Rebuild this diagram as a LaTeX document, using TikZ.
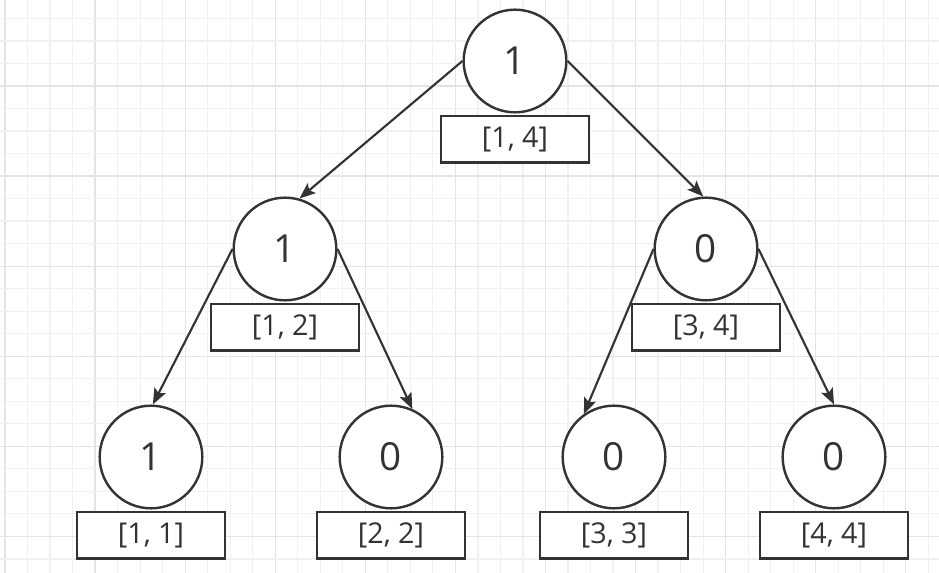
\documentclass[tikz,border=0pt]{standalone}
\usepackage{fontspec}
\setmainfont{Open Sans}
\usetikzlibrary{arrows.meta,positioning}

\definecolor{linec}{RGB}{51,51,51}
\definecolor{gridminor}{RGB}{241,241,241}
\definecolor{gridmajor}{RGB}{228,228,228}
\newcommand\valfont{\fontsize{29}{32}\selectfont}
\newcommand\segfont{\fontsize{21.5}{24}\selectfont}

\begin{document}
\begin{tikzpicture}[
  x=0.75pt, y=-0.75pt,
  val/.style={circle, draw=linec, text=linec, line width=1.8pt, fill=white, minimum size=77pt, inner sep=0pt, font=\valfont},
  seg/.style={rectangle, draw=linec, text=linec, line width=1.8pt, fill=white, minimum width=111.4pt, minimum height=34.9pt, inner sep=0pt, font=\segfont},
  arrow/.style={-{Stealth[length=12pt,width=9.5pt,inset=2.5pt]}, line width=1.6pt, draw=linec}
]
% background grid
\fill[white] (0,0) rectangle (939,573);
\useasboundingbox (0,0) rectangle (939,573);
\foreach \k in {0,...,41} {
  \pgfmathsetmacro\gx{5+22.52*\k}
  \pgfmathtruncatemacro\major{mod(\k,4)==0}
  \ifnum\major=1
    \draw[gridmajor, line width=0.9pt] (\gx,0) -- (\gx,573);
  \else
    \draw[gridminor, line width=0.9pt] (\gx,0) -- (\gx,573);
  \fi
}
\foreach \k in {1,...,26} {
  \pgfmathsetmacro\gy{-4.1+22.52*\k}
  \pgfmathtruncatemacro\major{mod(\k,4)==0}
  \ifnum\major=1
    \draw[gridmajor, line width=0.9pt] (0,\gy) -- (939,\gy);
  \else
    \draw[gridminor, line width=0.9pt] (0,\gy) -- (939,\gy);
  \fi
}

% tree nodes
\node[val] (root) at (515,61) {1};
\node[val] (ml) at (285,249) {1};
\node[val] (mr) at (706,249) {0};
\node[val] (l11) at (151,457) {1};
\node[val] (l22) at (391,457) {0};
\node[val] (l33) at (614,457) {0};
\node[val] (l44) at (834,457) {0};

% edges
\draw[arrow] (root.west) -- (ml.74);
\draw[arrow] (root.east) -- (mr.93);
\draw[arrow] (ml.west) -- (l11.88);
\draw[arrow] (ml.east) -- (l22.66);
\draw[arrow] (mr.west) -- (l33.125);
\draw[arrow] (mr.east) -- (l44.90);

% intervals
\node[seg, below=1pt of root] (s14) {[1, 4]};
\node[seg, below=1pt of ml] (s12) {[1, 2]};
\node[seg, below=1pt of mr] (s34) {[3, 4]};
\node[seg, below=1pt of l11] (s11) {[1, 1]};
\node[seg, below=1pt of l22] (s22) {[2, 2]};
\node[seg, below=1pt of l33] (s33) {[3, 3]};
\node[seg, below=1pt of l44] (s44) {[4, 4]};
\end{tikzpicture}
\end{document}
